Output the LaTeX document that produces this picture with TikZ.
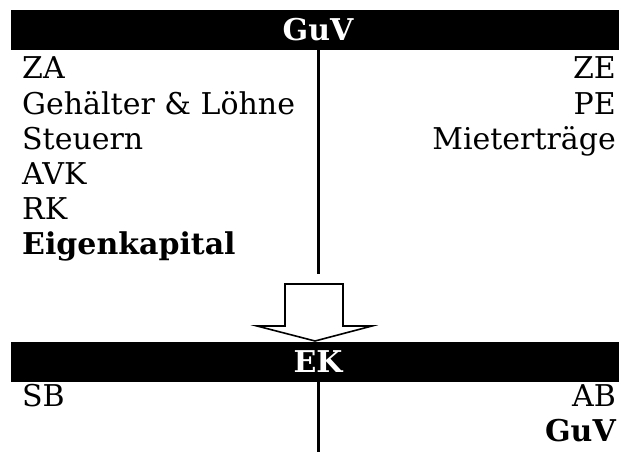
\documentclass[tikz,border=0pt]{standalone}
\usepackage{fontspec}
\setmainfont{DejaVu Serif}
\usetikzlibrary{positioning}

\newcommand\kontofont{\fontsize{30}{35}\selectfont}

\tikzset{
  kopf/.style={fill=black, text=white, font=\kontofont\bfseries, minimum width=614pt, minimum height=40pt, inner sep=0pt},
  links/.style={anchor=base west, inner sep=0pt, font=\kontofont},
  rechts/.style={anchor=base east, inner sep=0pt, font=\kontofont},
  fett/.style={font=\kontofont\bfseries},
  strich/.style={line width=3pt},
}

\begin{document}
\begin{tikzpicture}[x=1pt, y=-1pt]
    \useasboundingbox (0,0) rectangle (619,452);

    % Konto GuV
    \node[kopf] (guv) at (318,30) {GuV};
    \coordinate (guvende) at (318,274);
    \draw[strich] (guv.south) -- (guvende);

    \node[links] (za) at (22,79) {ZA};
    \node[links] (gehalt) at (22,114) {Gehälter \& Löhne};
    \node[links] (steuern) at (22,149) {Steuern};
    \node[links] (avk) at (22,184) {AVK};
    \node[links] (rk) at (22,219) {RK};
    \node[links, fett] (eksaldo) at (22,254) {Eigenkapital};

    \node[rechts] (ze) at (616,79) {ZE};
    \node[rechts] (pe) at (616,114) {PE};
    \node[rechts] (miete) at (616,149) {Mieterträge};

    % Pfeil
    \draw[line width=1.6pt, fill=white] (285,284) -- (343,284) -- (343,326) -- (372,326)
        -- (315,341) -- (257,326) -- (285,326) -- cycle;

    % Konto EK
    \node[kopf] (ek) at (318,361.5) {EK};
    \coordinate (ekende) at (318,452);
    \draw[strich] (ek.south) -- (ekende);

    \node[links] (sb) at (22,406) {SB};
    \node[rechts] (ab) at (616,406) {AB};
    \node[rechts, fett] (guvsaldo) at (616,441) {GuV};
\end{tikzpicture}
\end{document}
